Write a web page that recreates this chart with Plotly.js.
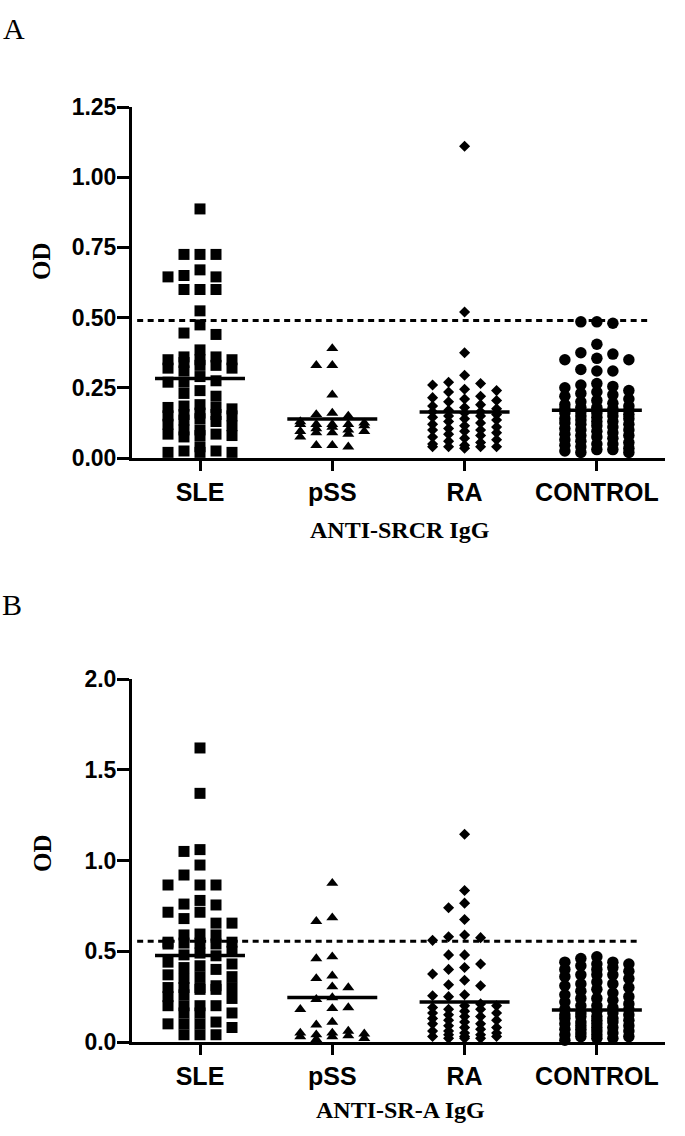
<!DOCTYPE html>
<html>
<head>
<meta charset="utf-8">
<script src="https://cdn.plot.ly/plotly-3.0.1.min.js"></script>
<style>html,body{margin:0;padding:0;background:#fff;}#chart{width:685px;height:1136px;}</style>
</head>
<body>
<div id="chart"></div>
<script>
// ---------- DATA ----------
const categories = ['SLE', 'pSS', 'RA', 'CONTROL'];

// Panel A: ANTI-SRCR IgG (OD)
const sleA = [0.887, 0.725, 0.725, 0.725, 0.67, 0.65, 0.645, 0.645, 0.60, 0.60, 0.60, 0.524, 0.474, 0.44, 0.445, 0.385,
  0.36, 0.33, 0.27, 0.35, 0.32, 0.27, 0.35, 0.29, 0.32, 0.35, 0.31, 0.36, 0.33, 0.275, 0.34,
  0.23, 0.24, 0.22,
  0.19, 0.185, 0.18, 0.18, 0.175, 0.16, 0.155, 0.155, 0.15, 0.15, 0.14, 0.135, 0.13, 0.12, 0.115,
  0.10, 0.10, 0.085, 0.08, 0.08, 0.075, 0.085,
  0.025, 0.02, 0.02, 0.04, 0.02, 0.025];
const pssA = [0.39, 0.33, 0.33, 0.225, 0.16, 0.155, 0.15, 0.125, 0.12, 0.12, 0.115, 0.12, 0.12, 0.13,
  0.095, 0.10, 0.09, 0.095, 0.09, 0.085, 0.075, 0.045, 0.04, 0.045, 0.105, 0.11];
const raA = [1.11, 0.52, 0.375, 0.295, 0.27, 0.265, 0.26, 0.245, 0.24, 0.235, 0.22, 0.215, 0.21, 0.205, 0.20,
  0.19, 0.185, 0.18, 0.175, 0.17, 0.165, 0.165, 0.16, 0.155, 0.15, 0.15, 0.145, 0.14, 0.135, 0.13, 0.125,
  0.12, 0.115, 0.11, 0.105, 0.10, 0.10, 0.095, 0.09, 0.085, 0.08, 0.075, 0.07, 0.065, 0.06, 0.055, 0.05,
  0.045, 0.04, 0.04, 0.04, 0.04, 0.035];
const controlA = [0.485, 0.48, 0.485, 0.405, 0.375, 0.355, 0.35, 0.35, 0.37, 0.315, 0.31, 0.31, 0.265, 0.26,
  0.255, 0.25, 0.24, 0.235, 0.23, 0.225, 0.22, 0.21, 0.205, 0.20, 0.195, 0.19, 0.185, 0.18, 0.18, 0.175,
  0.175, 0.17, 0.17, 0.165, 0.165, 0.16, 0.16, 0.155, 0.15, 0.15, 0.145, 0.14, 0.14, 0.135, 0.13, 0.13,
  0.125, 0.12, 0.12, 0.115, 0.11, 0.105, 0.10, 0.10, 0.095, 0.09, 0.085, 0.08, 0.08, 0.075, 0.07, 0.065,
  0.06, 0.055, 0.05, 0.05, 0.045, 0.04, 0.035, 0.03, 0.03, 0.025, 0.02, 0.02];
const meanA = [0.283, 0.139, 0.164, 0.17];
const cutoffA = 0.49;

// Panel B: ANTI-SR-A IgG (OD)
const sleB = [1.62, 1.37, 1.05, 1.06, 0.975, 0.92, 0.865, 0.865, 0.865, 0.78, 0.76, 0.755, 0.715, 0.715, 0.68,
  0.655, 0.655, 0.59, 0.595, 0.59, 0.55, 0.545, 0.545, 0.54, 0.55, 0.54, 0.50, 0.49, 0.48, 0.475, 0.44,
  0.43, 0.42, 0.41, 0.40, 0.37, 0.36, 0.35, 0.36, 0.31, 0.30, 0.30, 0.30, 0.29, 0.30, 0.29, 0.26, 0.25,
  0.24, 0.20, 0.20, 0.20, 0.20, 0.16, 0.16, 0.16, 0.11, 0.10, 0.10, 0.10, 0.08, 0.04, 0.04, 0.04];
const pssB = [0.875, 0.685, 0.665, 0.47, 0.46, 0.365, 0.35, 0.305, 0.30, 0.245, 0.235, 0.19, 0.18, 0.185,
  0.11, 0.095, 0.06, 0.05, 0.045, 0.04, 0.05, 0.035, 0.03, 0.02, 0.03, 0.015];
const raB = [1.145, 0.835, 0.765, 0.74, 0.675, 0.59, 0.58, 0.575, 0.56, 0.48, 0.48, 0.43, 0.41, 0.40, 0.375,
  0.34, 0.315, 0.31, 0.26, 0.255, 0.25, 0.21, 0.20, 0.20, 0.19, 0.18, 0.18, 0.17, 0.16, 0.16, 0.15, 0.14,
  0.14, 0.13, 0.12, 0.12, 0.11, 0.10, 0.10, 0.09, 0.08, 0.08, 0.07, 0.06, 0.06, 0.05, 0.05, 0.04, 0.04,
  0.03, 0.03, 0.03, 0.02, 0.02, 0.02];
const controlB = [0.47, 0.46, 0.44, 0.44, 0.43, 0.43, 0.42, 0.41, 0.40, 0.40, 0.39, 0.37, 0.37, 0.37, 0.36,
  0.35, 0.33, 0.32, 0.32, 0.31, 0.30, 0.29, 0.28, 0.27, 0.26, 0.25, 0.24, 0.24, 0.23, 0.22, 0.21, 0.20,
  0.20, 0.19, 0.18, 0.18, 0.17, 0.16, 0.16, 0.15, 0.15, 0.14, 0.14, 0.13, 0.13, 0.12, 0.12, 0.11, 0.11,
  0.10, 0.10, 0.09, 0.09, 0.08, 0.08, 0.07, 0.07, 0.06, 0.06, 0.05, 0.05, 0.04, 0.04, 0.03, 0.03, 0.02,
  0.02, 0.01];
const meanB = [0.477, 0.245, 0.22, 0.176];
const cutoffB = 0.555;

const titleA = 'ANTI-SRCR IgG';
const titleB = 'ANTI-SR-A IgG';
const yTitle = 'OD';

// ---------- LAYOUT GEOMETRY ----------
const W = 685, H = 1136;
const margin = {l: 132, r: 20, t: 0, b: 0};
const xRange = [0.486, 4.515];
const domA = [1 - 458 / H, 1 - 107 / H];
const domB = [1 - 1042 / H, 1 - 679 / H];
const rangeA = [0, 1.25];
const rangeB = [0, 2.0];

const plotW = W - margin.l - margin.r;
const xPxPerUnit = plotW / (xRange[1] - xRange[0]);
const yPxA = (domA[1] - domA[0]) * H / (rangeA[1] - rangeA[0]);
const yPxB = (domB[1] - domB[0]) * H / (rangeB[1] - rangeB[0]);

// discrete-slot column scatter (like GraphPad): spreads points that share a level
function swarm(vals, yPx, slotPx, markerPx, maxSlot) {
  const order = vals.map((v, i) => i).sort((a, b) => vals[b] - vals[a]);
  const slotOrder = [0];
  for (let k = 1; k <= maxSlot; k++) { slotOrder.push(-k, k); }
  const slots = {};
  const off = new Array(vals.length);
  order.forEach(idx => {
    const y = vals[idx] * yPx;
    let best = 0, bestD = -1;
    for (const s of slotOrder) {
      const arr = slots[s] || [];
      let d = Infinity;
      arr.forEach(yy => { d = Math.min(d, Math.abs(y - yy)); });
      if (d >= markerPx) { best = s; bestD = Infinity; break; }
      if (d > bestD) { bestD = d; best = s; }
    }
    (slots[best] = slots[best] || []).push(y);
    off[idx] = best * slotPx / xPxPerUnit;
  });
  return off;
}

const symbols = ['square', 'triangle-up', 'diamond', 'circle'];
const sizes = [11, 10.5, 8.5, 11.5];
const markerPx = [11, 10, 11, 11.5];

function groupTraces(groups, yPx, means, cutoff, cutEnd, xa, ya) {
  const traces = [];
  groups.forEach((vals, g) => {
    const off = swarm(vals, yPx, 16, markerPx[g], 2);
    traces.push({
      type: 'scatter', mode: 'markers', xaxis: xa, yaxis: ya, cliponaxis: false,
      x: vals.map((v, i) => g + 1 + off[i]), y: vals,
      marker: {symbol: symbols[g], size: sizes[g], color: '#000', line: {width: 0}},
      hoverinfo: 'y', showlegend: false
    });
  });
  means.forEach((m, g) => {
    traces.push({
      type: 'scatter', mode: 'lines', xaxis: xa, yaxis: ya, cliponaxis: false,
      x: [g + 1 - 0.34, g + 1 + 0.34], y: [m, m],
      line: {color: '#000', width: 3.5}, hoverinfo: 'skip', showlegend: false
    });
  });
  traces.push({
    type: 'scatter', mode: 'lines', xaxis: xa, yaxis: ya, cliponaxis: false,
    x: [0.525, cutEnd], y: [cutoff, cutoff],
    line: {color: '#000', width: 3, dash: '6px,4.5px'}, hoverinfo: 'skip', showlegend: false
  });
  return traces;
}

const data = [].concat(
  groupTraces([sleA, pssA, raA, controlA], yPxA, meanA, cutoffA, 4.40, 'x', 'y'),
  groupTraces([sleB, pssB, raB, controlB], yPxB, meanB, cutoffB, 4.33, 'x2', 'y2')
);

const yTickFont = {family: '"Liberation Sans", Arial, sans-serif', size: 23, color: '#000', weight: 'bold'};
const xTickFont = {family: '"Liberation Sans", Arial, sans-serif', size: 25, color: '#000', weight: 'bold'};
const serifBold = {family: '"Liberation Serif", "Times New Roman", serif', size: 24, color: '#000', weight: 'bold'};
const odFont = {family: '"Liberation Serif", "Times New Roman", serif', size: 25, color: '#000', weight: 'bold'};

function xAxis(anchor) {
  return {
    domain: [0, 1], range: xRange, anchor: anchor,
    tickmode: 'array', tickvals: [1, 2, 3, 4], ticktext: categories,
    showline: true, linecolor: '#000', linewidth: 3,
    ticks: 'outside', ticklen: 10, tickwidth: 3, tickcolor: '#000',
    showgrid: false, zeroline: false, tickfont: xTickFont, fixedrange: true
  };
}
function yAxis(anchor, dom, range, dtick, fmt) {
  return {
    domain: dom, range: range, anchor: anchor, dtick: dtick, tick0: 0, tickformat: fmt,
    showline: true, linecolor: '#000', linewidth: 3,
    ticks: 'outside', ticklen: 12, tickwidth: 3, tickcolor: '#000', ticklabelstandoff: -4,
    showgrid: false, zeroline: false, tickfont: yTickFont, fixedrange: true
  };
}

const layout = {
  width: W, height: H, margin: margin,
  paper_bgcolor: '#fff', plot_bgcolor: '#fff', showlegend: false,
  xaxis: xAxis('y'),
  yaxis: yAxis('x', domA, rangeA, 0.25, '.2f'),
  xaxis2: xAxis('y2'),
  yaxis2: yAxis('x2', domB, rangeB, 0.5, '.1f'),
  annotations: [
    {text: 'A', xref: 'paper', yref: 'paper', x: -(margin.l - 14) / plotW, y: 1 - 29 / H,
      xanchor: 'center', yanchor: 'middle', showarrow: false,
      font: {family: '"Liberation Serif", "Times New Roman", serif', size: 30, color: '#000'}},
    {text: 'B', xref: 'paper', yref: 'paper', x: -(margin.l - 12) / plotW, y: 1 - 604 / H,
      xanchor: 'center', yanchor: 'middle', showarrow: false,
      font: {family: '"Liberation Serif", "Times New Roman", serif', size: 30, color: '#000'}},
    {text: yTitle, xref: 'paper', yref: 'paper', x: -(margin.l - 42) / plotW, y: 1 - 261 / H,
      xanchor: 'center', yanchor: 'middle', showarrow: false, textangle: -90, font: odFont},
    {text: yTitle, xref: 'paper', yref: 'paper', x: -(margin.l - 42) / plotW, y: 1 - 853 / H,
      xanchor: 'center', yanchor: 'middle', showarrow: false, textangle: -90, font: odFont},
    {text: titleA, xref: 'paper', yref: 'paper', x: (400 - margin.l) / plotW, y: 1 - 530 / H,
      xanchor: 'center', yanchor: 'middle', showarrow: false, font: serifBold},
    {text: titleB, xref: 'paper', yref: 'paper', x: (400 - margin.l) / plotW, y: 1 - 1110 / H,
      xanchor: 'center', yanchor: 'middle', showarrow: false, font: serifBold}
  ]
};

Plotly.newPlot('chart', data, layout, {displayModeBar: false, staticPlot: true});
</script>
</body>
</html>
